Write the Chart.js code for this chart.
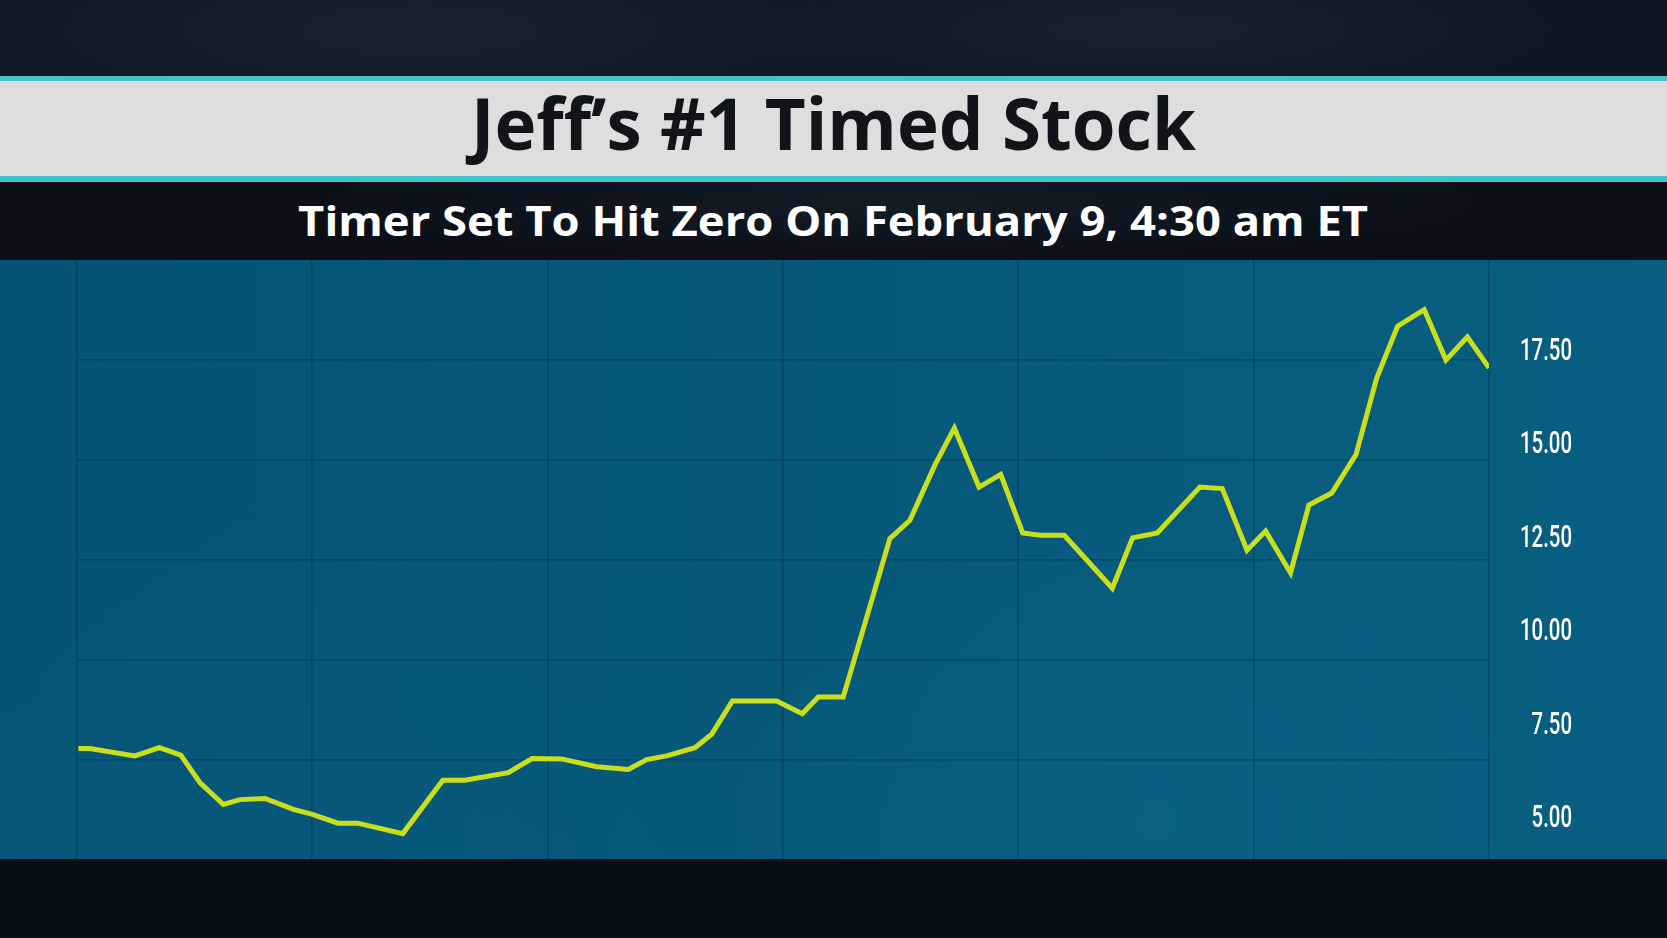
<!DOCTYPE html>
<html>
<head>
<meta charset="utf-8">
<script src="https://cdn.jsdelivr.net/npm/chart.js@4.4.1/dist/chart.umd.min.js"></script>
<style>
  html, body { margin: 0; padding: 0; }
  body { width: 1667px; height: 938px; position: relative; overflow: hidden; background: #080e18; font-family: 'Open Sans', sans-serif; }
  #topband { position: absolute; left: 0; top: 0; width: 1667px; height: 77px;
    background: radial-gradient(ellipse 500px 110px at 420px 30px, #17222d 0%, rgba(23,34,45,0) 100%),
                radial-gradient(ellipse 420px 80px at 1150px 30px, #18222c 0%, rgba(24,34,44,0) 100%),
                #0e1822; }
  #cyan1 { position: absolute; left: 0; top: 76px; width: 1667px; height: 5px; background: #42c2cc; }
  #grayband { position: absolute; left: 0; top: 81px; width: 1667px; height: 95px; background: #dfdedf; }
  #cyan2 { position: absolute; left: 0; top: 176px; width: 1667px; height: 6px; background: #42c2cc; }
  #subband { position: absolute; left: 0; top: 182px; width: 1667px; height: 78px;
    background: radial-gradient(ellipse 600px 60px at 900px 20px, #141c26 0%, rgba(20,28,38,0) 100%), #0a0f18; }
  #plotbg { position: absolute; left: 0; top: 260px; width: 1667px; height: 599px;
    background:
      radial-gradient(ellipse 420px 300px at 1150px 560px, rgba(20,120,150,0.22) 0%, rgba(20,120,150,0) 100%),
      radial-gradient(ellipse 700px 400px at 300px 650px, rgba(10,95,130,0.3) 0%, rgba(10,95,130,0) 100%),
      linear-gradient(90deg, #055476 0%, #065879 50%, #095f81 100%); }
  #bottomband { position: absolute; left: 0; top: 859px; width: 1667px; height: 79px; background: #080e18; }
  .txt { position: absolute; left: 0; width: 1667px; text-align: center; white-space: nowrap; font-weight: 700; }
  .txt span { display: inline-block; transform-origin: center center; }
  #title { top: 86px; font-size: 72px; line-height: 72px; color: #111418; }
  #subtitle { top: 199px; font-size: 42px; line-height: 42px; color: #ffffff; }
  #chartwrap { position: absolute; left: 0; top: 260px; width: 1667px; height: 599px; }
</style>
</head>
<body>
<div id="topband"></div>
<div id="cyan1"></div>
<div id="grayband"></div>
<div id="cyan2"></div>
<div id="subband"></div>
<div id="plotbg"></div>
<div id="bottomband"></div>
<div class="txt" id="title"><span>Jeff’s #1 Timed Stock</span></div>
<div class="txt" id="subtitle"><span>Timer Set To Hit Zero On February 9, 4:30 am ET</span></div>
<div id="chartwrap"><canvas id="c" width="1667" height="599"></canvas></div>
<script>
// ---- data ----
// time position, in grid periods from the first vertical gridline
const periods = [0.008, 0.057, 0.248, 0.352, 0.443, 0.525, 0.624, 0.694, 0.801, 0.921,
  0.999, 1.110, 1.194, 1.386, 1.556, 1.650, 1.834, 1.935, 2.061, 2.210,
  2.344, 2.422, 2.507, 2.627, 2.698, 2.786, 2.974, 3.083, 3.151, 3.257,
  3.455, 3.540, 3.647, 3.729, 3.834, 3.926, 4.019, 4.093, 4.196, 4.400,
  4.486, 4.591, 4.772, 4.867, 4.972, 5.051, 5.157, 5.235, 5.332, 5.435,
  5.523, 5.612, 5.725, 5.817, 5.908, 6.000];
const prices = [6.82, 6.82, 6.62, 6.84, 6.64, 5.90, 5.32, 5.45, 5.48, 5.19,
  5.06, 4.82, 4.82, 4.54, 5.97, 5.97, 6.17, 6.55, 6.54, 6.33,
  6.26, 6.52, 6.62, 6.84, 7.20, 8.09, 8.09, 7.75, 8.20, 8.20,
  12.44, 12.93, 14.42, 15.40, 13.82, 14.16, 12.59, 12.53, 12.53, 11.11,
  12.46, 12.59, 13.82, 13.78, 12.13, 12.64, 11.52, 13.34, 13.66, 14.69,
  16.74, 18.13, 18.57, 17.22, 17.84, 17.01];
const priceTicks = [5.00, 7.50, 10.00, 12.50, 15.00, 17.50];
const periodGrid = [0, 1, 2, 3, 4, 5, 6];
const rowGrid = [1, 2, 3, 4, 5];

// fit headline texts to the reference widths
function fitText(id, target) {
  const s = document.querySelector('#' + id + ' span');
  const w = s.getBoundingClientRect().width;
  if (w > 0) s.style.transform = 'scaleX(' + (target / w) + ')';
}
fitText('title', 725);
fitText('subtitle', 1070);

const points = periods.map((p, i) => ({ x: p, y: prices[i] }));

const tickFont = { family: "Roboto, 'Open Sans', sans-serif", size: 32, weight: '500' };

// draw the price labels horizontally condensed, like the reference typeface
const condensedLabels = {
  id: 'condensedLabels',
  beforeDraw(chart) {
    const s = chart.scales.y;
    if (s._condensed) return;
    s._condensed = true;
    const ctx = chart.ctx;
    ctx.save();
    ctx.font = tickFont.weight + ' ' + tickFont.size + 'px ' + tickFont.family;
    const k = 52 / ctx.measureText('17.50').width;
    ctx.restore();
    const orig = s.drawLabels.bind(s);
    s.drawLabels = function (area) {
      const x0 = this.right;
      ctx.save();
      ctx.translate(x0, 0);
      ctx.scale(k, 1);
      ctx.translate(-x0, 0);
      orig(area);
      ctx.restore();
    };
  }
};

new Chart(document.getElementById('c'), {
  type: 'line',
  data: {
    datasets: [{
      data: points,
      xAxisID: 'x',
      yAxisID: 'y',
      borderColor: '#c9df1d',
      borderWidth: 5,
      borderJoinStyle: 'miter',
      pointRadius: 0,
      tension: 0,
      fill: false
    }]
  },
  options: {
    responsive: false,
    animation: false,
    events: [],
    layout: { padding: { left: 76.5, right: 95, top: 0, bottom: 0 } },
    plugins: { legend: { display: false }, tooltip: { enabled: false }, title: { display: false } },
    scales: {
      x: {
        type: 'linear',
        min: 0,
        max: 6,
        afterBuildTicks: (axis) => { axis.ticks = periodGrid.map(v => ({ value: v })); },
        afterFit: (axis) => { axis.height = 0; axis.paddingLeft = 0; axis.paddingRight = 0; },
        ticks: { display: false },
        border: { display: false },
        grid: { color: 'rgba(3,48,70,0.42)', lineWidth: 1.5, drawTicks: false }
      },
      yg: {
        type: 'linear',
        position: 'left',
        reverse: true,
        min: 0,
        max: 5.99,
        afterBuildTicks: (axis) => { axis.ticks = rowGrid.map(v => ({ value: v })); },
        afterFit: (axis) => { axis.width = 0; axis.paddingTop = 0; axis.paddingBottom = 0; },
        ticks: { display: false },
        border: { display: false },
        grid: { color: 'rgba(3,48,70,0.42)', lineWidth: 1.5, drawTicks: false }
      },
      y: {
        type: 'linear',
        position: 'right',
        min: 3.86,
        max: 19.9,
        afterBuildTicks: (axis) => { axis.ticks = priceTicks.map(v => ({ value: v })); },
        afterFit: (axis) => { axis.width = 83; axis.paddingTop = 0; axis.paddingBottom = 0; },
        border: { display: false },
        grid: { display: false, drawTicks: false },
        ticks: {
          crossAlign: 'far',
          padding: 0,
          labelOffset: 2.5,
          color: '#ffffff',
          font: tickFont,
          callback: (v) => Number(v).toFixed(2)
        }
      }
    }
  },
  plugins: [condensedLabels]
});
</script>
</body>
</html>
